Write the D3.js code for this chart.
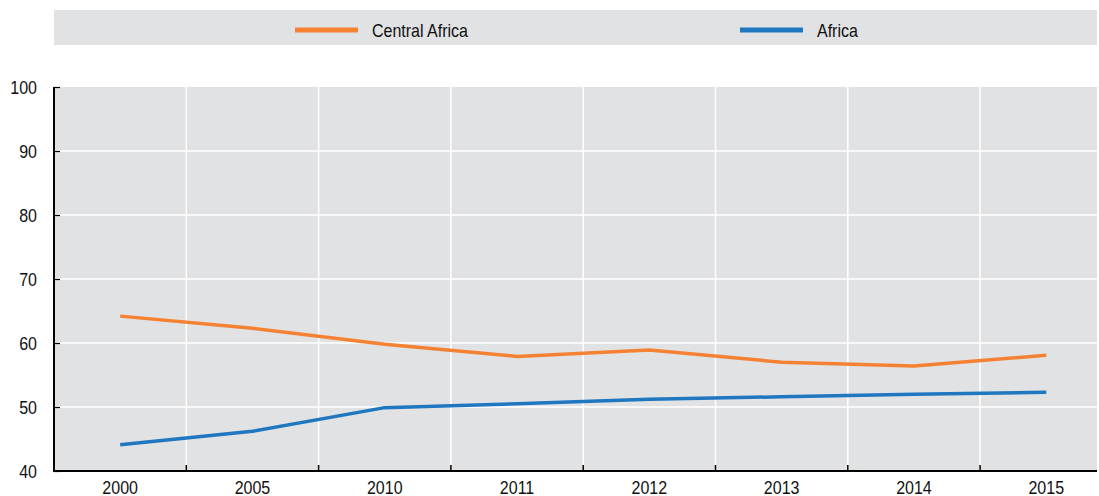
<!DOCTYPE html>
<html>
<head>
<meta charset="utf-8">
<script src="https://cdn.jsdelivr.net/npm/d3@7/dist/d3.min.js"></script>
<style>
  html, body { margin: 0; padding: 0; background: #fff; }
  svg text { font-family: "Liberation Sans Narrow", "Arial Narrow", "Liberation Sans", Arial, sans-serif; fill: #111; }
</style>
</head>
<body>
<svg id="chart" width="1099" height="496"></svg>
<script>
// Categories along the x axis
const years = ["2000", "2005", "2010", "2011", "2012", "2013", "2014", "2015"];
// Series values (percent)
const centralAfrica = [64.2, 62.3, 59.8, 57.9, 58.9, 57.0, 56.4, 58.1];
const africa = [44.1, 46.2, 49.9, 50.5, 51.2, 51.6, 52.0, 52.3];
// Y tick values
const yTicks = [40, 50, 60, 70, 80, 90, 100];

const seriesNames = ["Central Africa", "Africa"];
const seriesColors = ["#f58232", "#1f77c0"];
const seriesValues = [centralAfrica, africa];

const svg = d3.select("#chart");
const plot = { left: 54, right: 1097, top: 87, bottom: 471 };
const bandW = 132.3;

const x = d3.scaleBand()
  .domain(years)
  .range([plot.left, plot.left + bandW * years.length])
  .paddingInner(0).paddingOuter(0);

const y = d3.scaleLinear().domain([40, 100]).range([plot.bottom, plot.top]);

// Legend band
svg.append("rect")
  .attr("x", 54).attr("y", 10)
  .attr("width", plot.right - 54).attr("height", 35)
  .attr("fill", "#e1e2e4");

const legendPos = [295, 740];
seriesNames.forEach((name, i) => {
  const g = svg.append("g").attr("transform", `translate(${legendPos[i]},30)`);
  g.append("line").attr("x1", 0).attr("x2", 63).attr("y1", 0).attr("y2", 0)
    .attr("stroke", seriesColors[i]).attr("stroke-width", 5);
  g.append("text").attr("x", 77).attr("y", 6.5)
    .attr("font-size", 18).text(name);
});

// Plot background
svg.append("rect")
  .attr("x", plot.left).attr("y", plot.top)
  .attr("width", plot.right - plot.left).attr("height", plot.bottom - plot.top)
  .attr("fill", "#e1e2e4");

svg.append("clipPath").attr("id", "plotClip")
  .append("rect")
  .attr("x", plot.left).attr("y", plot.top)
  .attr("width", plot.right - plot.left).attr("height", plot.bottom - plot.top);

const grid = svg.append("g").attr("clip-path", "url(#plotClip)");

// Horizontal gridlines
grid.selectAll("line.h").data(yTicks.filter(t => t > 40 && t < 100)).enter()
  .append("line").attr("class", "h")
  .attr("x1", plot.left).attr("x2", plot.right)
  .attr("y1", d => y(d)).attr("y2", d => y(d))
  .attr("stroke", "#fff").attr("stroke-width", 1.5);

// Vertical gridlines at band boundaries
const boundaries = years.slice(1);
grid.selectAll("line.v").data(boundaries).enter()
  .append("line").attr("class", "v")
  .attr("x1", d => x(d)).attr("x2", d => x(d))
  .attr("y1", plot.top).attr("y2", plot.bottom)
  .attr("stroke", "#fff").attr("stroke-width", 1.5);

// Series lines
const line = d3.line()
  .x((d, i) => x(years[i]) + x.bandwidth() / 2)
  .y(d => y(d));

seriesValues.forEach((vals, i) => {
  grid.append("path")
    .datum(vals)
    .attr("d", line)
    .attr("fill", "none")
    .attr("stroke", seriesColors[i])
    .attr("stroke-width", 3.5)
    .attr("stroke-linejoin", "round");
});

// Y axis
const yAxis = d3.axisRight(y).tickValues(yTicks).tickSize(6).tickFormat(d3.format("d"));
const yg = svg.append("g").attr("transform", `translate(${plot.left},0)`).call(yAxis);
yg.select(".domain").remove();
yg.selectAll(".tick line").attr("stroke", "#000").attr("stroke-width", 1.2);
yg.selectAll(".tick text")
  .attr("x", -17).attr("text-anchor", "end").attr("dy", "0.35em")
  .attr("font-size", 18);
svg.append("line")
  .attr("x1", plot.left).attr("x2", plot.left)
  .attr("y1", plot.top).attr("y2", plot.bottom + 1)
  .attr("stroke", "#000").attr("stroke-width", 2);

// X axis
const xAxis = d3.axisBottom(x).tickSize(0);
const xg = svg.append("g").attr("transform", `translate(0,${plot.bottom})`).call(xAxis);
xg.select(".domain").remove();
xg.selectAll(".tick text").attr("y", 23).attr("dy", 0).attr("font-size", 18);
svg.append("line")
  .attr("x1", plot.left - 1).attr("x2", plot.right)
  .attr("y1", plot.bottom).attr("y2", plot.bottom)
  .attr("stroke", "#000").attr("stroke-width", 2);
svg.selectAll("line.xtick").data(boundaries).enter()
  .append("line").attr("class", "xtick")
  .attr("x1", d => x(d)).attr("x2", d => x(d))
  .attr("y1", plot.bottom - 6).attr("y2", plot.bottom)
  .attr("stroke", "#000").attr("stroke-width", 1.5);

// Condense all labels horizontally around their anchor point
svg.selectAll("text").each(function () {
  const ax = +(this.getAttribute("x") || 0);
  d3.select(this).attr("transform", `translate(${ax},0) scale(0.89,1) translate(${-ax},0)`);
});
</script>
</body>
</html>
